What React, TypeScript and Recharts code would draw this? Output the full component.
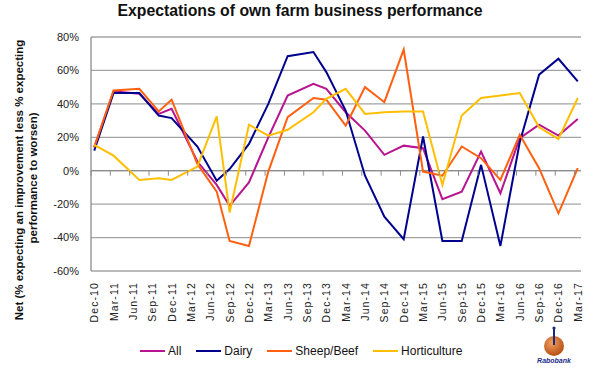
import React from "react";
import {
  LineChart,
  Line,
  XAxis,
  YAxis,
  CartesianGrid,
  ReferenceLine,
  Label,
} from "recharts";

// survey months, counted from Dec-10
const months = [0, 3, 7, 10, 12, 16, 19, 21, 24, 27, 30, 34, 36, 39, 42, 45, 48, 51, 54, 57, 60, 63, 66, 69, 72, 75];

const allFarms = [14, 47.5, 46, 34, 37, 5.5, -8.5, -21, -7, 20, 45, 52, 49, 35, 24, 9.5, 15, 13.5, -17, -12.5, 11.5, -13.5, 19.5, 27.5, 21, 31];
const dairy = [12, 46.5, 46.5, 33, 31.5, 14.5, -6, 1, 16, 40, 68.5, 71, 59, 36, -3, -27.5, -41, 20.5, -42, -42, 3.5, -45, 17, 57.5, 67, 53.5];
const sheepBeef = [14, 48, 49, 35.5, 42.5, 4, -12.5, -42, -45, -0.5, 32, 43.5, 42.5, 27, 50, 41, 72.5, -0.5, -3, 14.5, 7.5, -5.5, 21.5, 1.5, -25.5, 1.5];
const horticulture = [15.5, 9, -5.5, -4.5, -5.5, 2.5, 32.5, -25, 27.5, 21, 24.5, 35, 43, 49, 34, 35, 35.5, 35.5, -8.5, 33, 43.5, 45, 46.5, 26, 19, 43.5];

const xTickLabels = [
  "Dec-10", "Mar-11", "Jun-11", "Sep-11", "Dec-11", "Mar-12", "Jun-12", "Sep-12", "Dec-12",
  "Mar-13", "Jun-13", "Sep-13", "Dec-13", "Mar-14", "Jun-14", "Sep-14", "Dec-14", "Mar-15",
  "Jun-15", "Sep-15", "Dec-15", "Mar-16", "Jun-16", "Sep-16", "Dec-16", "Mar-17",
];
const yTicks = [-60, -40, -20, 0, 20, 40, 60, 80];

const series = [
  { key: "All", values: allFarms, color: "#B8148F" },
  { key: "Dairy", values: dairy, color: "#00008F" },
  { key: "Sheep/Beef", values: sheepBeef, color: "#FF6010" },
  { key: "Horticulture", values: horticulture, color: "#FFBF00" },
];

const chartData = months.map((m, i) => {
  const row: { [k: string]: number } = { m };
  series.forEach((s) => {
    row[s.key] = s.values[i];
  });
  return row;
});

const W = 600;
const H = 368;
const MARGIN = { top: 37, right: 19, bottom: 40, left: 0 };
const Y_AXIS_W = 91;
const X_AXIS_H = 57;
const PLOT_H = H - MARGIN.top - MARGIN.bottom - X_AXIS_H;
const PLOT_W = W - Y_AXIS_W - MARGIN.right;
const ZERO_Y = MARGIN.top + (PLOT_H * 80) / 140;
const HALF_MONTH = PLOT_W / 76 / 2;
const FONT = "'Liberation Sans', Arial, sans-serif";

const XTick = (props: any) => {
  const { x, payload } = props;
  const idx = Math.round(payload.value / 3);
  return (
    <g>
      <line x1={x - HALF_MONTH} x2={x - HALF_MONTH} y1={ZERO_Y} y2={ZERO_Y + 5} stroke="#8c8c8c" />
      <text
        transform={`translate(${x + 4},${282}) rotate(-90)`}
        textAnchor="end"
        fontSize={10.5}
        letterSpacing={1.1}
        fill="#222"
        fontFamily={FONT}
      >
        {xTickLabels[idx]}
      </text>
    </g>
  );
};

const YTitle = () => (
  <g fontFamily={FONT} fontSize={11.5} fontWeight="bold" fill="#111" textAnchor="middle">
    <text transform="translate(23,180) rotate(-90)">
      Net (% expecting an improvement less % expecting
    </text>
    <text transform="translate(37,178) rotate(-90)">performance to worsen)</text>
  </g>
);

const App = () => {
  return (
    <div style={{ position: "absolute", left: 0, top: 0, width: W, height: H, background: "#fff", fontFamily: FONT }}>
      <div
        style={{
          position: "absolute",
          top: 2,
          left: 0,
          width: W,
          textAlign: "center",
          fontWeight: "bold",
          fontSize: 15.8,
          color: "#111",
        }}
      >
        Expectations of own farm business performance
      </div>
      <LineChart width={W} height={H} data={chartData} margin={MARGIN}>
        <CartesianGrid vertical={false} stroke="#a3a3a3" strokeWidth={1.3} />
        <XAxis
          dataKey="m"
          type="number"
          domain={[-0.5, 75.5]}
          ticks={xTickLabels.map((_, i) => i * 3)}
          interval={0}
          height={X_AXIS_H}
          axisLine={false}
          tickLine={false}
          tick={<XTick />}
        />
        <YAxis
          domain={[-60, 80]}
          ticks={yTicks}
          interval={0}
          width={Y_AXIS_W}
          tickFormatter={(v: number) => `${v}%`}
          tickLine={false}
          tickSize={0}
          tickMargin={12}
          axisLine={{ stroke: "#8c8c8c", strokeWidth: 1.3 }}
          tick={{ fontSize: 11, fill: "#222", fontFamily: FONT }}
        >
          <Label content={<YTitle />} />
        </YAxis>
        <ReferenceLine y={0} stroke="#8c8c8c" strokeWidth={1.3} />
        {series.map((s) => (
          <Line
            key={s.key}
            type="linear"
            dataKey={s.key}
            stroke={s.color}
            strokeWidth={2}
            dot={false}
            isAnimationActive={false}
          />
        ))}
      </LineChart>
      <div
        style={{
          position: "absolute",
          top: 344,
          left: 140,
          display: "flex",
          gap: 15,
          fontSize: 12,
          color: "#111",
          alignItems: "center",
        }}
      >
        {series.map((s) => (
          <div key={s.key} style={{ display: "flex", alignItems: "center", gap: 3 }}>
            <span style={{ display: "inline-block", width: 25, height: 2, background: s.color }} />
            <span>{s.key}</span>
          </div>
        ))}
      </div>
      <svg style={{ position: "absolute", left: 535, top: 325 }} width={40} height={43}>
        <defs>
          <radialGradient id="ball" cx="40%" cy="35%" r="70%">
            <stop offset="0%" stopColor="#f0a060" />
            <stop offset="100%" stopColor="#b34a10" />
          </radialGradient>
        </defs>
        <circle cx={19} cy={21} r={10} fill="url(#ball)" />
        <line x1={19} y1={3} x2={19} y2={20} stroke="#1a2a7a" strokeWidth={2} />
        <circle cx={19} cy={3} r={1.6} fill="#1a2a7a" />
        <text x={19} y={38} textAnchor="middle" fontSize={7} fontStyle="italic" fontWeight="bold" fill="#1a2a8a" fontFamily={FONT}>
          Rabobank
        </text>
      </svg>
    </div>
  );
};

export default App;
